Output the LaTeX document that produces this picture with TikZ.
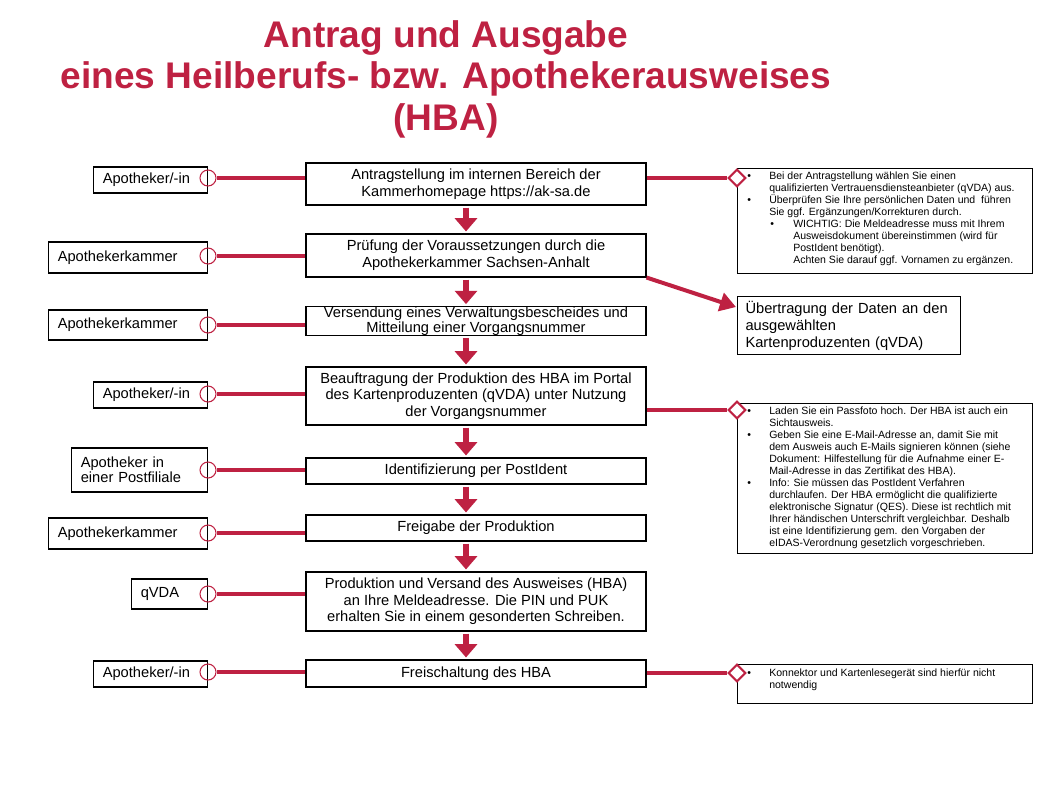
\documentclass[tikz,border=0pt]{standalone}
\usepackage{fontspec}
\setmainfont{Liberation Sans}
\usetikzlibrary{arrows.meta,shapes.geometric}
\definecolor{crim}{RGB}{190,33,66}
\newcommand\nb[1]{\hspace*{7.5pt}\makebox[16.5pt][l]{\textbullet}#1}
\newcommand\nc[1]{\hspace*{24pt}#1}
\newcommand\nbb[1]{\hspace*{24.75pt}\makebox[17.25pt][l]{\textbullet}#1}
\newcommand\ncc[1]{\hspace*{42pt}#1}
\begin{document}
\begin{tikzpicture}[x=0.75pt,y=-0.75pt,
  mainbox/.style={draw, line width=0.8pt, minimum width=255pt, inner xsep=2pt, inner ysep=0pt,
    align=center, font=\fontsize{11}{12.5}\selectfont},
  leftbox/.style={draw, line width=0.8pt, anchor=east, inner xsep=7pt, inner ysep=0pt,
    align=left, font=\fontsize{11}{11.5}\selectfont},
  notebox/.style={draw, line width=0.8pt, anchor=north west, minimum width=221.25pt, inner sep=0pt},
  notetext/.style={anchor=north west, inner sep=0pt, align=left, font=\fontsize{7.9}{9}\selectfont},
  circ/.style={circle, draw=crim, line width=0.8pt, minimum size=12pt, inner sep=0pt},
  dia/.style={diamond, draw=crim, fill=white, line width=1.5pt, minimum width=13pt, minimum height=13pt, inner sep=0pt},
  hline/.style={crim, line width=3pt},
  varrow/.style={crim, line width=4.5pt, shorten <=1.5pt, shorten >=1.5pt, -{Triangle[width=16.5pt,length=10pt]}},
  darrow/.style={crim, line width=3pt, -{Triangle[width=14pt,length=12pt]}}
]
\useasboundingbox (0,0) rectangle (1058,794);

% title
\node[anchor=north, inner sep=0pt, align=center, text=crim,
  font=\fontsize{27.8}{31.1}\selectfont\bfseries] (title) at (446,20)
  {Antrag und Ausgabe\\eines Heilberufs- bzw. Apothekerausweises\\(HBA)};

% main column
\node[mainbox, minimum height=31.5pt] (m1) at (476,184) {Antragstellung im internen Bereich der\\Kammerhomepage https://ak-sa.de};
\node[mainbox, minimum height=32.25pt] (m2) at (476,255.5) {Prüfung der Voraussetzungen durch die\\Apothekerkammer Sachsen-Anhalt};
\node[mainbox, minimum height=21pt, font=\fontsize{11}{11.25}\selectfont] (m3) at (476,321) {Versendung eines Verwaltungsbescheides und\\Mitteilung einer Vorgangsnummer};
\node[mainbox, minimum height=43.5pt] (m4) at (476,396) {Beauftragung der Produktion des HBA im Portal\\des Kartenproduzenten (qVDA) unter Nutzung\\der Vorgangsnummer};
\node[mainbox, minimum height=19.5pt] (m5) at (476,471) {Identifizierung per PostIdent};
\node[mainbox, minimum height=19.5pt] (m6) at (476,528) {Freigabe der Produktion};
\node[mainbox, minimum height=44.25pt] (m7) at (476,601.5) {Produktion und Versand des Ausweises (HBA)\\ an Ihre Meldeadresse. Die PIN und PUK\\erhalten Sie in einem gesonderten Schreiben.};
\node[mainbox, minimum height=20.25pt] (m8) at (476,673.5) {Freischaltung des HBA};

% vertical arrows
\coordinate (ax) at (466,0);
\draw[varrow] (m1.south -| ax) -- (m2.north -| ax);
\draw[varrow] (m2.south -| ax) -- (m3.north -| ax);
\draw[varrow] (m3.south -| ax) -- (m4.north -| ax);
\draw[varrow] (m4.south -| ax) -- (m5.north -| ax);
\draw[varrow] (m5.south -| ax) -- (m6.north -| ax);
\draw[varrow] (m6.south -| ax) -- (m7.north -| ax);
\draw[varrow] (m7.south -| ax) -- (m8.north -| ax);

% left boxes
\node[leftbox, text width=71.5pt, minimum height=19.5pt] (l1) at (208,180) {Apotheker/-in};
\node[leftbox, text width=105.25pt, minimum height=23.25pt] (l2) at (208,257.5) {Apothekerkammer};
\node[leftbox, text width=105.25pt, minimum height=22.5pt] (l3) at (208,325) {Apothekerkammer};
\node[leftbox, text width=71.5pt, minimum height=19.5pt] (l4) at (208,395) {Apotheker/-in};
\node[leftbox, text width=88pt, minimum height=33pt] (l5) at (208,470) {Apotheker in\\einer Postfiliale};
\node[leftbox, text width=105.25pt, minimum height=23.25pt] (l6) at (208,533.5) {Apothekerkammer};
\node[leftbox, text width=43pt, minimum height=22.5pt] (l7) at (208,594) {qVDA};
\node[leftbox, text width=71.5pt, minimum height=19.5pt] (l8) at (208,674) {Apotheker/-in};

% circles and connectors on the left
\node[circ] (c1) at (208,178) {};
\node[circ] (c2) at (208,256) {};
\node[circ] (c3) at (208,325) {};
\node[circ] (c4) at (208,394) {};
\node[circ] (c5) at (208,470) {};
\node[circ] (c6) at (208,533) {};
\node[circ] (c7) at (208,594) {};
\node[circ] (c8) at (208,672) {};
\draw[hline] (c1.east) -- (c1 -| m1.west);
\draw[hline] (c2.east) -- (c2 -| m2.west);
\draw[hline] (c3.east) -- (c3 -| m3.west);
\draw[hline] (c4.east) -- (c4 -| m4.west);
\draw[hline] (c5.east) -- (c5 -| m5.west);
\draw[hline] (c6.east) -- (c6 -| m6.west);
\draw[hline] (c7.east) -- (c7 -| m7.west);
\draw[hline] (c8.east) -- (c8 -| m8.west);

% note boxes
\node[notebox, minimum height=78.75pt] (n1) at (737,168) {};
\node[notebox, minimum height=112.5pt] (n2) at (737,403) {};
\node[notebox, minimum height=29.25pt] (n3) at (737,664) {};

\node[notetext] (t1) at ([yshift=-3pt]n1.north west) {%
\nb{Bei der Antragstellung wählen Sie einen}\\
\nc{qualifizierten Vertrauensdiensteanbieter (qVDA) aus.}\\
\nb{Überprüfen Sie Ihre persönlichen Daten und\ \ führen}\\
\nc{Sie ggf. Ergänzungen/Korrekturen durch.}\\
\nbb{WICHTIG: Die Meldeadresse muss mit Ihrem}\\
\ncc{Ausweisdokument übereinstimmen (wird für}\\
\ncc{PostIdent benötigt).}\\
\ncc{Achten Sie darauf ggf. Vornamen zu ergänzen.}};

\node[notetext] (t2) at ([yshift=-3pt]n2.north west) {%
\nb{Laden Sie ein Passfoto hoch. Der HBA ist auch ein}\\
\nc{Sichtausweis.}\\
\nb{Geben Sie eine E-Mail-Adresse an, damit Sie mit}\\
\nc{dem Ausweis auch E-Mails signieren können (siehe}\\
\nc{Dokument: Hilfestellung für die Aufnahme einer E-}\\
\nc{Mail-Adresse in das Zertifikat des HBA).}\\
\nb{Info: Sie müssen das PostIdent Verfahren}\\
\nc{durchlaufen. Der HBA ermöglicht die qualifizierte}\\
\nc{elektronische Signatur (QES). Diese ist rechtlich mit}\\
\nc{Ihrer händischen Unterschrift vergleichbar. Deshalb}\\
\nc{ist eine Identifizierung gem. den Vorgaben der}\\
\nc{eIDAS-Verordnung gesetzlich vorgeschrieben.}};

\node[notetext] (t3) at ([yshift=-3.5pt]n3.north west) {%
\nb{Konnektor und Kartenlesegerät sind hierfür nicht}\\
\nc{notwendig}};

% diamonds and connectors on the right
\node[dia] (d1) at (737,178) {};
\node[dia] (d2) at (737,410) {};
\node[dia] (d3) at (737,673) {};
\draw[hline] (m1.east |- d1) -- (d1.west);
\draw[hline] (m4.east |- d2) -- (d2.west);
\draw[hline] (m8.east |- d3) -- (d3.west);
\node[dia] at (d1) {};
\node[dia] at (d2) {};
\node[dia] at (d3) {};

% transfer box
\node[draw, line width=0.8pt, anchor=north west, text width=155.25pt, minimum height=43.5pt,
  inner xsep=6pt, inner ysep=0pt, align=left, font=\fontsize{11}{12.75}\selectfont] (u) at (737,296)
  {Übertragung der Daten an den\\ausgewählten\\Kartenproduzenten (qVDA)};
\coordinate (ut) at (736,307);
\draw[darrow] (m2.south east) -- (ut);
\end{tikzpicture}
\end{document}
